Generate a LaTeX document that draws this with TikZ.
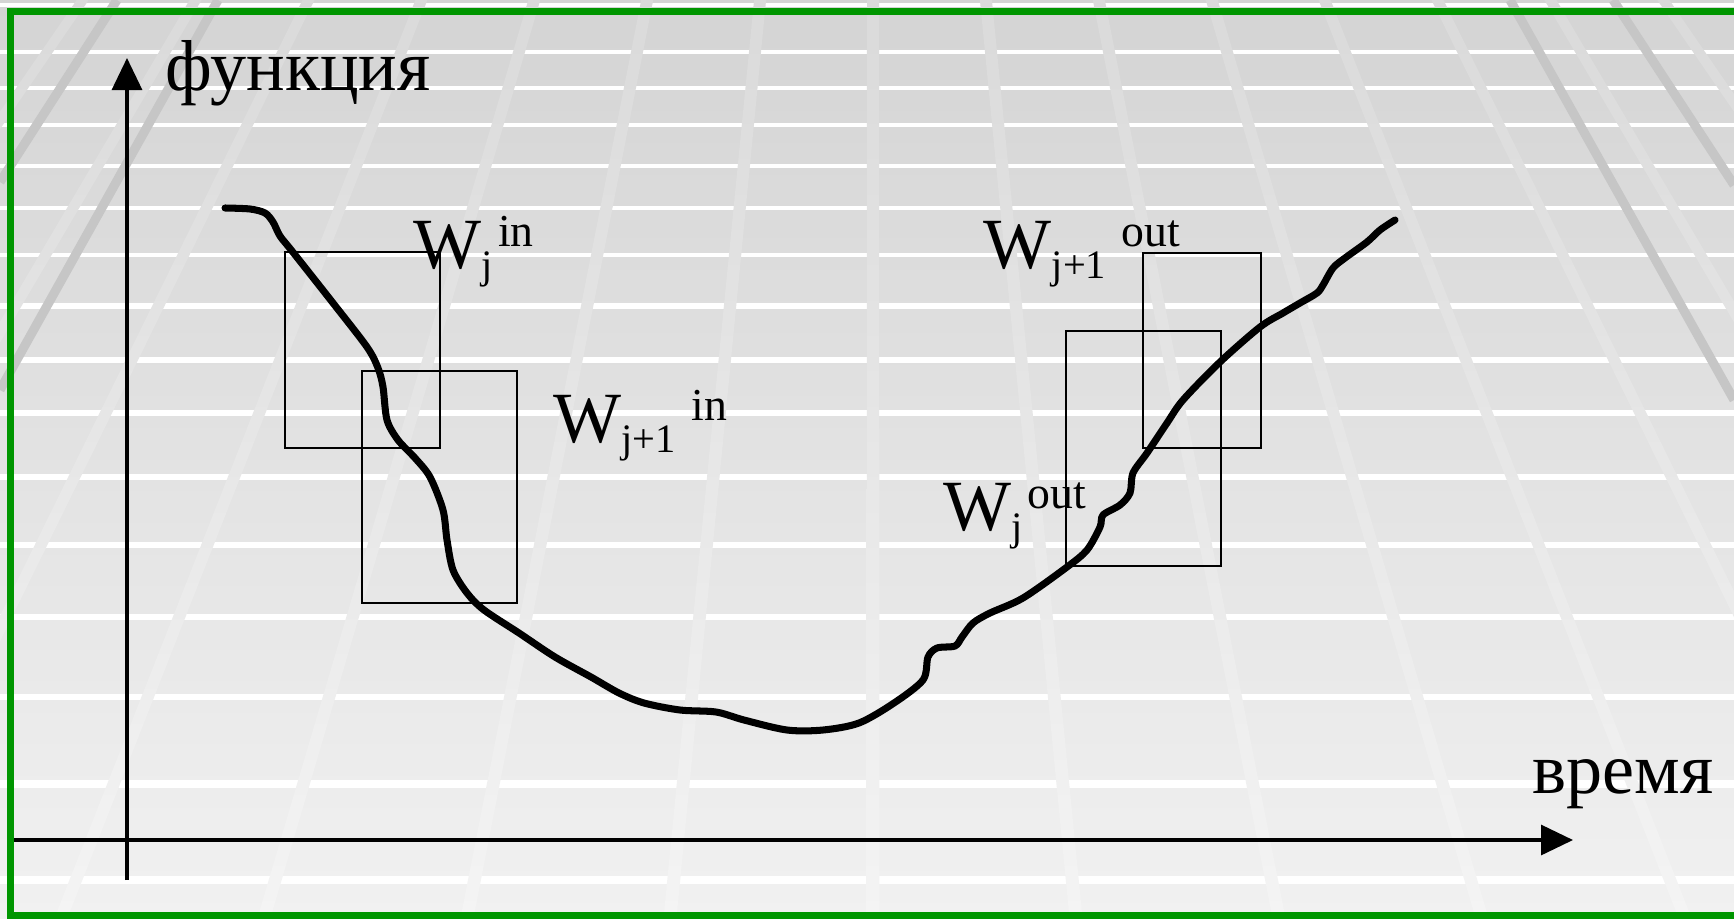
\documentclass[tikz,border=0pt]{standalone}
\usepackage{fontspec}
\setmainfont{Liberation Serif}
\usepackage{xcolor}
\usepackage{tikz}
\usetikzlibrary{arrows.meta, positioning, calc}

\definecolor{slidegreen}{RGB}{0,150,0}
\definecolor{bgtop}{RGB}{212,212,212}
\definecolor{bgbot}{RGB}{241,241,241}
\definecolor{ribtop}{RGB}{218,218,218}
\definecolor{ribbot}{RGB}{244,244,244}
\definecolor{darkrib}{RGB}{198,198,198}
\newcommand{\subscr}{\fontsize{11.5}{12}\selectfont}
\newcommand{\supscr}{\fontsize{13}{14}\selectfont}
\newcommand{\wlab}[3]{W\raisebox{-3.1pt}{\subscr #1}\kern#3\raisebox{6pt}{\supscr #2}}

\begin{document}
\begin{tikzpicture}[
    x=0.01cm, y=-0.01cm,
    lbl/.style={inner sep=0pt, anchor=base west, font=\fontsize{20.5}{24}\selectfont},
    axis/.style={draw=black, line width=0.9pt, -{Triangle[length=3.2mm, width=3mm]}},
    window/.style={draw=black, line width=0.6pt},
    signal/.style={draw=black, line width=2pt, line cap=round, line join=round}
]

\useasboundingbox (0,0) rectangle (1734,918);
\clip (0,0) rectangle (1734,918);

% slide background
\shade[top color=bgtop, bottom color=bgbot] (0,0) rectangle (1734,918);
\foreach \yy/\ww in {5/1.1, 52/1.2, 88/1.2, 125/1.3, 166/1.3, 208/1.4, 255/1.4, 306/1.5, 360/1.5, 413/1.6, 477/1.6, 545/1.7, 617/1.8, 697/1.9, 784/2, 880/2.1}
  \draw[white, line width=\ww pt] (0,\yy) -- (1734,\yy);
\foreach \k in {-9,...,9}
  \shade[top color=ribtop, bottom color=ribbot] ({873+\k*112.9-6},0) -- ({873+\k*112.9+6},0) -- ({873+\k*203+6.5},918) -- ({873+\k*203-6.5},918) -- cycle;
\draw[darkrib, line width=2.6pt] (117,0) -- (0,182);
\draw[darkrib, line width=2.6pt] (218,0) -- (0,390);
\draw[darkrib, line width=2.6pt] (1510,0) -- (1734,400);
\draw[darkrib, line width=2.6pt] (1613,0) -- (1734,185);
\draw[slidegreen, line width=2pt] (10.5,11.5) rectangle (1760,915);

% axes
\coordinate (xstart) at (14,840);
\coordinate (xtip) at (1573,840);
\coordinate (ybot) at (127,880);
\coordinate (ytip) at (127,58);
\draw[axis] (xstart) -- (xtip);
\draw[axis] (ybot) -- (ytip);
\node[lbl] (func) at (165,90) {функция};
\node[lbl] (time) at (1532,793) {время};

% windows
\draw[window] (285,252) rectangle (440,448);
\draw[window] (362,371) rectangle (517,603);
\draw[window] (1066,331) rectangle (1221,566);
\draw[window] (1143,253) rectangle (1261,448);

\node[lbl] (winj) at (413,268) {\wlab{j}{in}{1.5pt}};
\node[lbl] (winjj) at (553,442) {\wlab{j+1}{in}{4.5pt}};
\node[lbl] (woutj) at (943,530) {\wlab{j}{out}{1.4pt}};
\node[lbl] (woutjj) at (983,268) {\wlab{j+1}{out}{4.5pt}};

% signal
\draw[signal] plot[smooth, tension=0.5] coordinates {
  (225,208) (250,209) (265,213) (273,222) (280,236) (292,251)
  (333,303) (367,347) (378,368) (383,387) (387,420) (398,440) (415,458)
  (430,477) (443,510) (447,540) (453,570) (467,593) (484,610) (519,633)
  (555,657) (591,677) (619,693) (644,703) (680,710) (716,712) (744,720)
  (787,730) (823,730) (859,723) (894,703) (923,680) (928,657) (937,648)
  (955,646) (962,637) (973,623) (990,613) (1023,598) (1067,567) (1087,550)
  (1100,527) (1103,515) (1120,505) (1130,493) (1133,473) (1147,453)
  (1167,423) (1183,400) (1220,362) (1260,327) (1283,313) (1300,303)
  (1317,293) (1323,285) (1333,268) (1345,258) (1367,242) (1380,230) (1395,220)};

\end{tikzpicture}
\end{document}
